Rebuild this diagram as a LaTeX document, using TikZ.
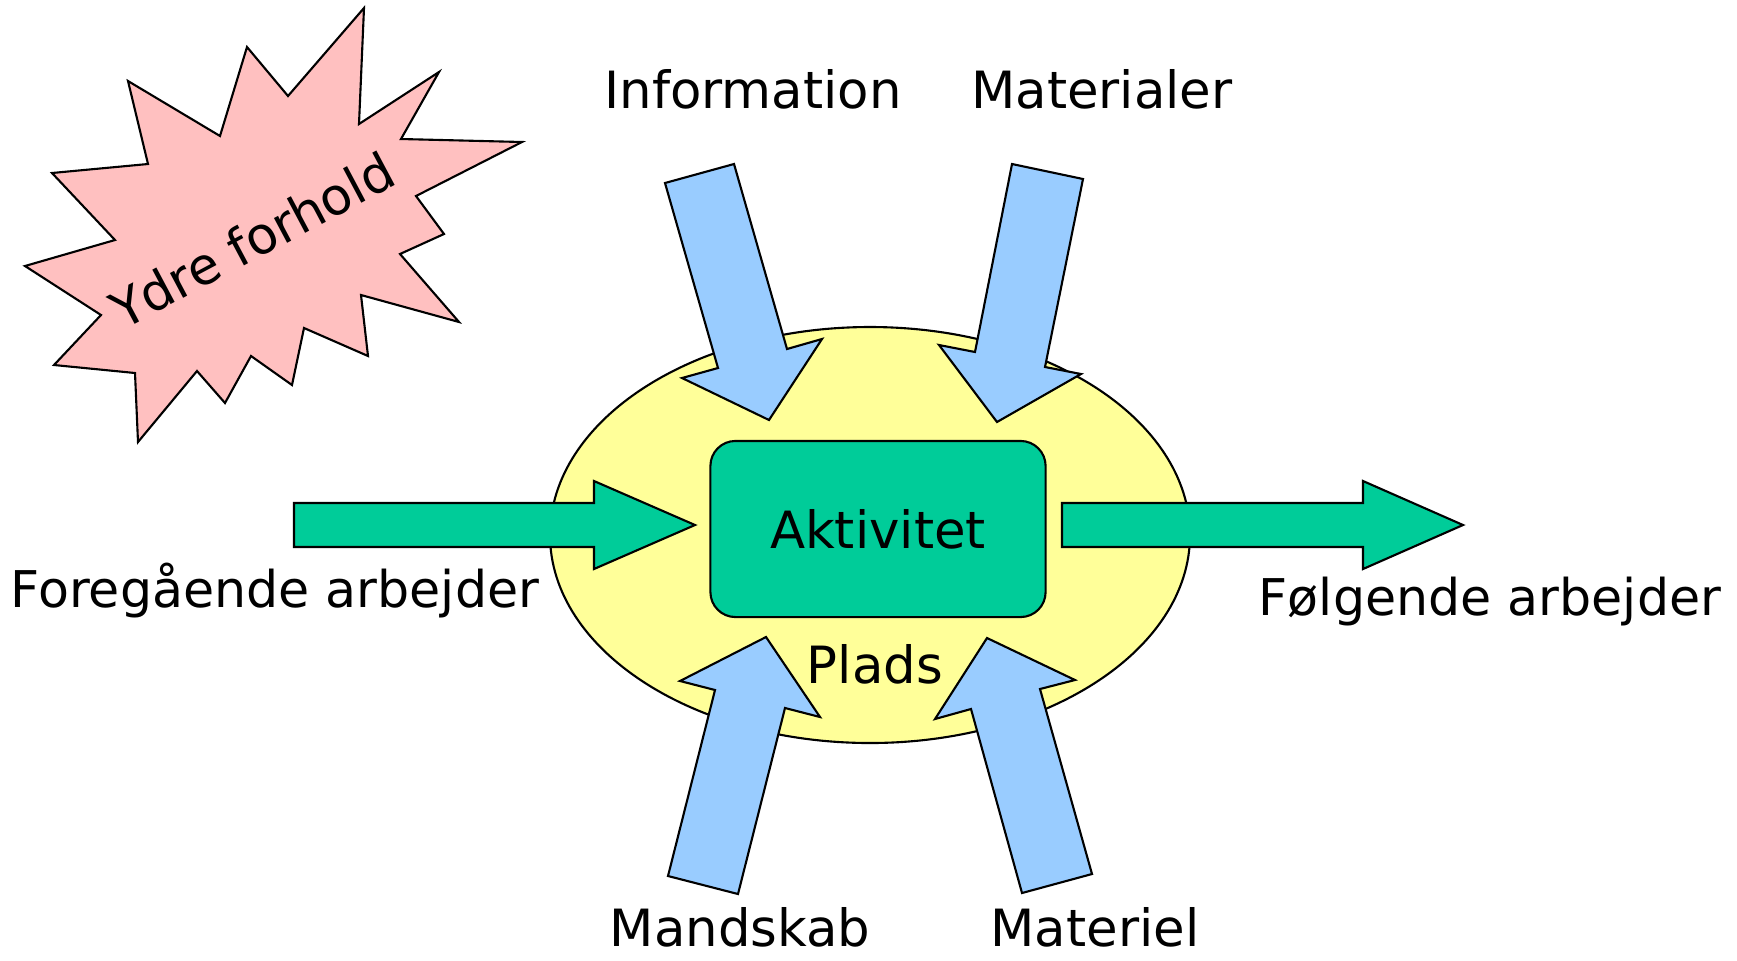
\documentclass[tikz,border=0pt]{standalone}
\usepackage{fontspec}
\setmainfont{DejaVu Sans}
\definecolor{pladsgul}{HTML}{FFFF99}
\definecolor{aktgroen}{HTML}{00CC99}
\definecolor{pilblaa}{HTML}{99CCFF}
\definecolor{ydrerosa}{HTML}{FFC0C0}
\tikzset{
  omrids/.style={draw, line width=0.6pt, line join=miter},
  blaapil/.style={omrids, fill=pilblaa},
  groenpil/.style={omrids, fill=aktgroen},
  etiket/.style={font=\fontsize{14.6}{17}\selectfont, anchor=base, inner sep=0pt},
}
\begin{document}
\begin{tikzpicture}[x=0.01cm, y=-0.01cm]
                \useasboundingbox (0,0) rectangle (1737,960);
                \draw[omrids, fill=ydrerosa] (364,8) -- (359,124) -- (439,72) -- (401,139) -- (522,142)
                    -- (416,196) -- (444,234) -- (400,254) -- (459,322) -- (361,295) -- (368,356)
                    -- (304,328) -- (292,385) -- (251,356) -- (225,403) -- (197,371) -- (138,442)
                    -- (135,373) -- (54,365) -- (101,315) -- (25,266) -- (115,240) -- (52,173)
                    -- (148,164) -- (128,81) -- (220,136) -- (247,47) -- (288,96) -- cycle;
                \node[etiket, anchor=center, rotate=28] (ydre) at (252,240) {Ydre forhold};
                \draw[omrids, fill=pladsgul] (870,535) ellipse [x radius=320, y radius=208];
                \node[omrids, fill=aktgroen, rounded corners=0.25cm, minimum width=3.35cm,
                    minimum height=1.76cm, font=\fontsize{14.6}{17}\selectfont] (akt) at (878,529) {Aktivitet};
                \node[etiket] (plads) at (875,683) {Plads};
                \draw[groenpil] (294,503) -- (594,503) -- (594,481) -- (695,525) -- (594,569) -- (594,547) -- (294,547) -- cycle;
                \draw[groenpil] (1062,503) -- (1363,503) -- (1363,481) -- (1463,525) -- (1363,569) -- (1363,547) -- (1062,547) -- cycle;
                \draw[blaapil] (665,183) -- (734,164) -- (787,349) -- (822,339) -- (769,420) -- (682,378) -- (718,368) -- cycle;
                \draw[blaapil] (1012,164) -- (1083,179) -- (1045,367) -- (1081,374) -- (997,422) -- (939,345) -- (975,352) -- cycle;
                \draw[blaapil] (668,876) -- (738,894) -- (785,708) -- (820,717) -- (766,637) -- (680,681) -- (715,690) -- cycle;
                \draw[blaapil] (987,638) -- (1075,680) -- (1040,689) -- (1092,874) -- (1022,893) -- (971,709) -- (935,719) -- cycle;
                \node[etiket] (info) at (753,108) {Information};
                \node[etiket] (materialer) at (1102,108) {Materialer};
                \node[etiket, font=\fontsize{14.4}{17}\selectfont] (foreg) at (275,607) {Foregående arbejder};
                \node[etiket, font=\fontsize{14.4}{17}\selectfont] (folg) at (1490,615) {Følgende arbejder};
                \node[etiket] (mandskab) at (740,946) {Mandskab};
                \node[etiket] (materiel) at (1095,946) {Materiel};
            \end{tikzpicture}
\end{document}
